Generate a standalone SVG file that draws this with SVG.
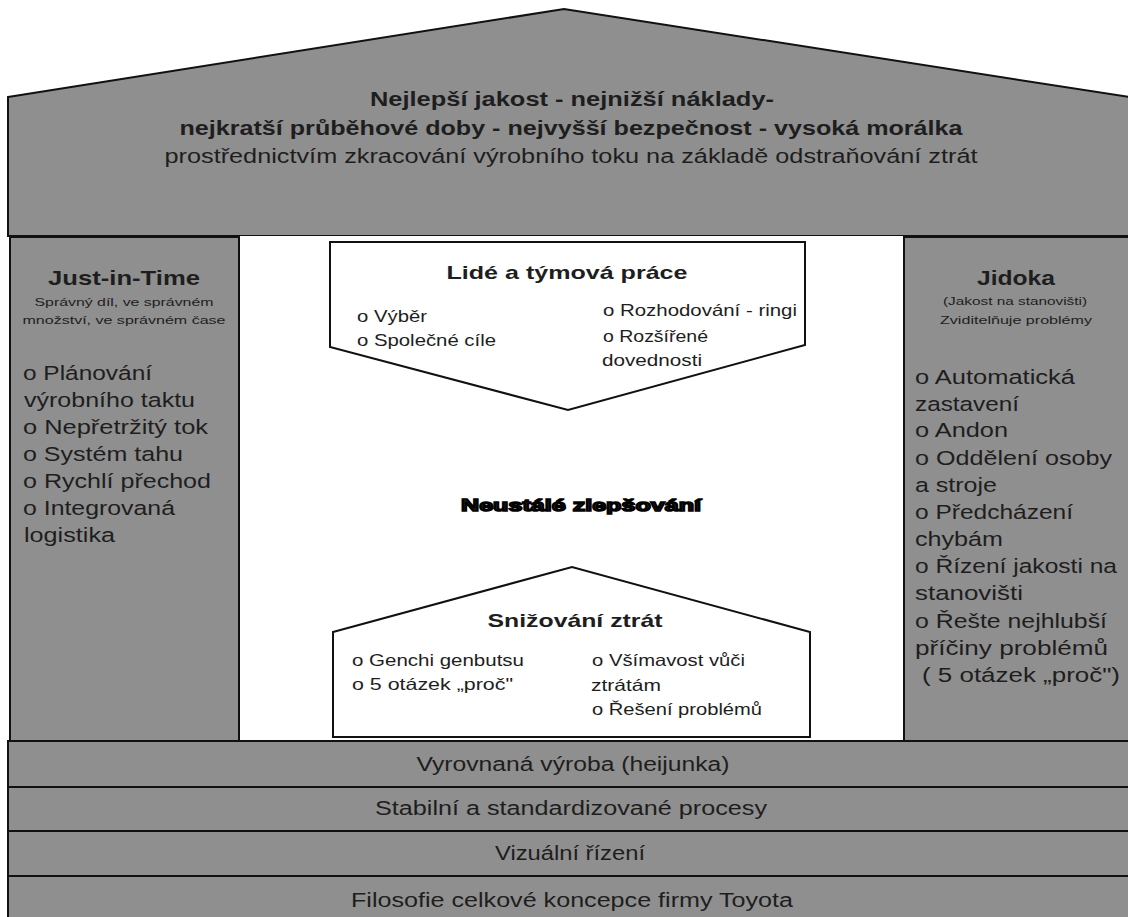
<svg xmlns="http://www.w3.org/2000/svg" width="1128" height="917" viewBox="0 0 1128 917">
<style>
.g{fill:#8f8f8f;stroke:#111;stroke-width:2}
.w{fill:#fff;stroke:#111;stroke-width:2}
text{font-family:"Liberation Sans",Arial,sans-serif;fill:#1e1e1e}
.b{font-weight:bold}
.c{text-anchor:middle}
.l{font-size:20.5px}
.s{font-size:16.5px}
.t{font-size:11px}
.band{font-size:19.5px}
</style>
<rect width="1128" height="917" fill="#fff"/>
<g id="roof">
<polygon class="g" points="8,97 564,9 1129,97 1129,236 8,236"/>
<text class="b c" x="572" y="106" font-size="19.5" textLength="404" lengthAdjust="spacingAndGlyphs">Nejlepší jakost - nejnižší náklady-</text>
<text class="b c" x="571" y="135" font-size="19.5" textLength="783" lengthAdjust="spacingAndGlyphs">nejkratší průběhové doby - nejvyšší bezpečnost - vysoká morálka</text>
<text class="c" x="571" y="163" font-size="19.5" textLength="813" lengthAdjust="spacingAndGlyphs">prostřednictvím zkracování výrobního toku na základě odstraňování ztrát</text>
</g>
<g id="center">
<rect x="239" y="236" width="665" height="505" fill="#fff"/>
</g>
<g id="jit">
<rect class="g" x="10" y="237" width="229" height="504"/>
<text class="b c" x="124" y="285" font-size="21" textLength="152" lengthAdjust="spacingAndGlyphs">Just-in-Time</text>
<text class="c t" x="124" y="306" textLength="179" lengthAdjust="spacingAndGlyphs">Správný díl, ve správném</text>
<text class="c t" x="124" y="324" textLength="203" lengthAdjust="spacingAndGlyphs">množství, ve správném čase</text>
<text class="l" x="23" y="380" textLength="129" lengthAdjust="spacingAndGlyphs">o Plánování</text>
<text class="l" x="24" y="407" textLength="171" lengthAdjust="spacingAndGlyphs">výrobního taktu</text>
<text class="l" x="23" y="434" textLength="185" lengthAdjust="spacingAndGlyphs">o Nepřetržitý tok</text>
<text class="l" x="23" y="461" textLength="160" lengthAdjust="spacingAndGlyphs">o Systém tahu</text>
<text class="l" x="23" y="488" textLength="188" lengthAdjust="spacingAndGlyphs">o Rychlí přechod</text>
<text class="l" x="23" y="515" textLength="152" lengthAdjust="spacingAndGlyphs">o Integrovaná</text>
<text class="l" x="24" y="542" textLength="91" lengthAdjust="spacingAndGlyphs">logistika</text>
</g>
<g id="jidoka">
<rect class="g" x="904" y="237" width="226" height="504"/>
<text class="b c" x="1016" y="285" font-size="20" textLength="78" lengthAdjust="spacingAndGlyphs">Jidoka</text>
<text class="c" x="1015" y="305" font-size="10.5" textLength="144" lengthAdjust="spacingAndGlyphs">(Jakost na stanovišti)</text>
<text class="c" x="1016" y="324" font-size="10.5" textLength="152" lengthAdjust="spacingAndGlyphs">Zviditelňuje problémy</text>
<text class="l" x="915" y="384" textLength="160" lengthAdjust="spacingAndGlyphs">o Automatická</text>
<text class="l" x="915" y="411" textLength="104" lengthAdjust="spacingAndGlyphs">zastavení</text>
<text class="l" x="915" y="437" textLength="93" lengthAdjust="spacingAndGlyphs">o Andon</text>
<text class="l" x="915" y="465" textLength="197" lengthAdjust="spacingAndGlyphs">o Oddělení osoby</text>
<text class="l" x="915" y="492" textLength="82" lengthAdjust="spacingAndGlyphs">a stroje</text>
<text class="l" x="915" y="519" textLength="158" lengthAdjust="spacingAndGlyphs">o Předcházení</text>
<text class="l" x="915" y="546" textLength="88" lengthAdjust="spacingAndGlyphs">chybám</text>
<text class="l" x="915" y="573" textLength="202" lengthAdjust="spacingAndGlyphs">o Řízení jakosti na</text>
<text class="l" x="915" y="600" textLength="108" lengthAdjust="spacingAndGlyphs">stanovišti</text>
<text class="l" x="915" y="628" textLength="192" lengthAdjust="spacingAndGlyphs">o Řešte nejhlubší</text>
<text class="l" x="915" y="655" textLength="193" lengthAdjust="spacingAndGlyphs">příčiny problémů</text>
<text class="l" x="922" y="682" textLength="198" lengthAdjust="spacingAndGlyphs">( 5 otázek „proč")</text>
</g>
<g id="people">
<polygon class="w" points="330,242 805,242 805,345 568,410 330,347"/>
<text class="b c" x="567" y="279" font-size="19" textLength="241" lengthAdjust="spacingAndGlyphs">Lidé a týmová práce</text>
<text class="s" x="357" y="322" textLength="70" lengthAdjust="spacingAndGlyphs">o Výběr</text>
<text class="s" x="357" y="346" textLength="139" lengthAdjust="spacingAndGlyphs">o Společné cíle</text>
<text class="s" x="603" y="316" textLength="194" lengthAdjust="spacingAndGlyphs">o Rozhodování - ringi</text>
<text class="s" x="603" y="342" textLength="105" lengthAdjust="spacingAndGlyphs">o Rozšířené</text>
<text class="s" x="602" y="366" textLength="100" lengthAdjust="spacingAndGlyphs">dovednosti</text>
</g>
<g id="kaizen">
<text class="b c" x="581" y="511" font-size="17" stroke="#000" stroke-width="1.6" textLength="240" lengthAdjust="spacingAndGlyphs">Neustálé zlepšování</text>
</g>
<g id="waste">
<polygon class="w" points="333,632 572,567 810,632 810,737 333,737"/>
<text class="b c" x="575" y="627" font-size="19" textLength="175" lengthAdjust="spacingAndGlyphs">Snižování ztrát</text>
<text class="s" x="352" y="666" textLength="172" lengthAdjust="spacingAndGlyphs">o Genchi genbutsu</text>
<text class="s" x="352" y="690" textLength="161" lengthAdjust="spacingAndGlyphs">o 5 otázek „proč"</text>
<text class="s" x="592" y="666" textLength="153" lengthAdjust="spacingAndGlyphs">o Všímavost vůči</text>
<text class="s" x="591" y="691" textLength="70" lengthAdjust="spacingAndGlyphs">ztrátám</text>
<text class="s" x="592" y="715" textLength="170" lengthAdjust="spacingAndGlyphs">o Řešení problémů</text>
</g>
<g id="heijunka">
<rect class="g" x="8" y="741" width="1122" height="46"/>
<text class="c band" x="573" y="771" textLength="313" lengthAdjust="spacingAndGlyphs">Vyrovnaná výroba (heijunka)</text>
</g>
<g id="standard">
<rect class="g" x="8" y="787" width="1122" height="44"/>
<text class="c band" x="571" y="815" textLength="392" lengthAdjust="spacingAndGlyphs">Stabilní a standardizované procesy</text>
</g>
<g id="visual">
<rect class="g" x="8" y="831" width="1122" height="45"/>
<text class="c band" x="570" y="860" textLength="150" lengthAdjust="spacingAndGlyphs">Vizuální řízení</text>
</g>
<g id="philosophy">
<rect class="g" x="8" y="876" width="1122" height="45"/>
<text class="c band" x="572" y="907" textLength="442" lengthAdjust="spacingAndGlyphs">Filosofie celkové koncepce firmy Toyota</text>
</g>
<g id="connectors"></g>
</svg>
